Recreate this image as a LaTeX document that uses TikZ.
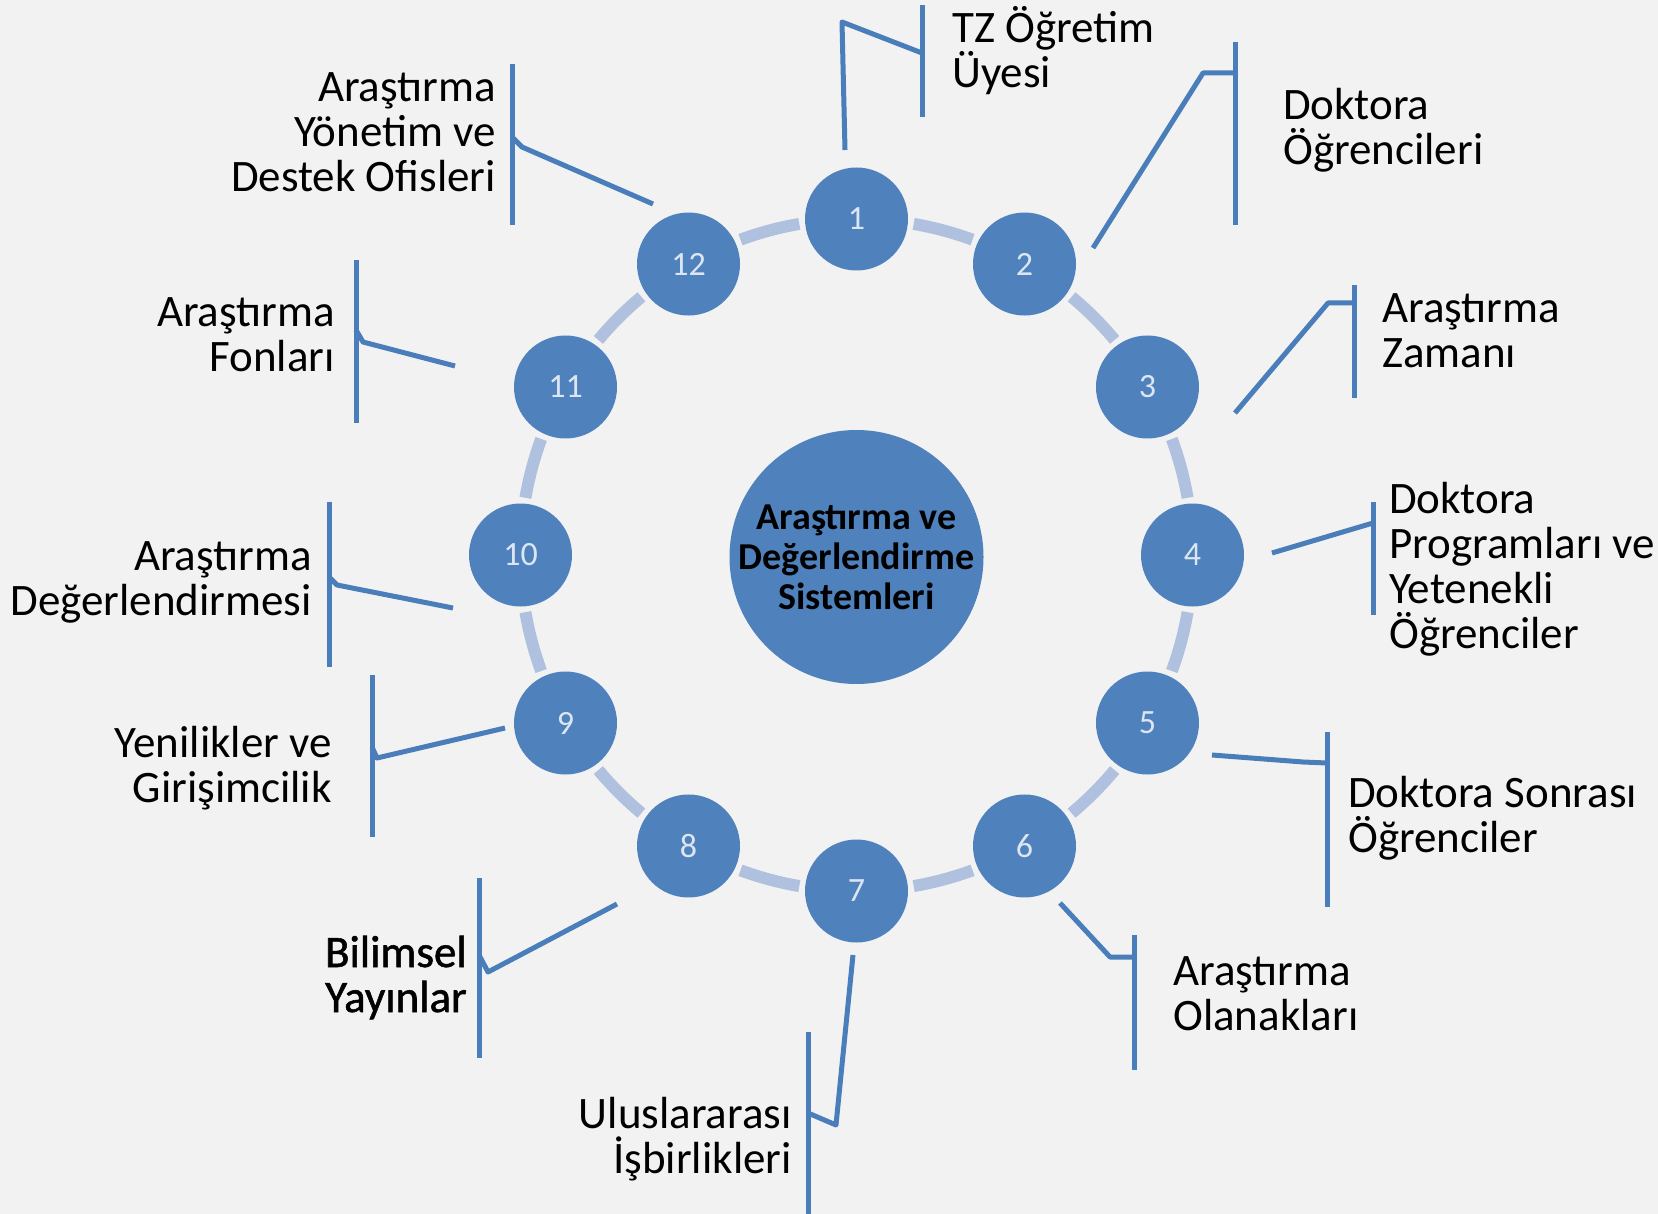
\documentclass[tikz,border=0pt]{standalone}
\usepackage{fontspec}
\setmainfont{Carlito}
\newfontfamily\heavierfont[FakeBold=1.2]{Carlito}
\usetikzlibrary{calc}
\definecolor{bgc}{HTML}{F2F2F2}
\definecolor{blu}{HTML}{4F81BD}
\definecolor{lnc}{HTML}{4A7EBB}
\definecolor{arcc}{HTML}{AFC1DE}
\definecolor{numc}{HTML}{DCE6F2}
\tikzset{
  numcirc/.style={circle, fill=blu, minimum size=103pt, inner sep=0pt, text=numc, font=\fontsize{34}{36}\selectfont},
  hubcirc/.style={circle, fill=blu, minimum size=254pt, inner sep=0pt},
  ringarc/.style={draw=arcc, line width=12pt},
  callout/.style={draw=lnc, line width=5pt, line join=round},
  lblL/.style={inner sep=0pt, anchor=base west, align=left, font=\fontsize{45}{45}\selectfont},
  lblR/.style={inner sep=0pt, anchor=base east, align=right, font=\fontsize{45}{45}\selectfont},
}
\begin{document}
\begin{tikzpicture}[x=1pt,y=1pt]
\useasboundingbox (0,0) rectangle (1658,-1214);
\fill[bgc] (0,0) rectangle (1658,-1214);
\coordinate (ring) at (856.5,-555);
% ring arcs between the numbered circles
\foreach \k in {1,...,12}{
  \pgfmathsetmacro{\a}{90-30*(\k-1)}
  \draw[ringarc] ($(ring)+(\a-9.8:336)$) arc[start angle=\a-9.8, end angle=\a-20.2, radius=336];
}
% hub
\node[hubcirc] (hub) at (856.5,-557) {};
\node[inner sep=0pt, anchor=base, align=center, font=\bfseries\fontsize{38}{40}\selectfont] (hubtxt) at (856.5,-609) {Araştırma ve\\Değerlendirme\\Sistemleri};
% numbered circles
\foreach \k in {1,...,12}{
  \pgfmathsetmacro{\a}{90-30*(\k-1)}
  \node[numcirc] (n\k) at ($(ring)+(\a:336)$) {\k};
}
% callout coordinates
\coordinate (b1t) at (922,-5);    \coordinate (b1b) at (922,-117);
\coordinate (p1a) at (845,-150);  \coordinate (p1b) at (842,-22);  \coordinate (p1c) at (922,-53);
\coordinate (b2t) at (1235,-42);  \coordinate (b2b) at (1235,-225);
\coordinate (p2a) at (1093,-248); \coordinate (p2b) at (1203,-73); \coordinate (p2c) at (1235,-73);
\coordinate (b3t) at (1354,-285); \coordinate (b3b) at (1354,-398);
\coordinate (p3a) at (1235,-413); \coordinate (p3b) at (1328,-303); \coordinate (p3c) at (1354,-303);
\coordinate (b4t) at (1373,-502); \coordinate (b4b) at (1373,-615);
\coordinate (p4a) at (1272,-553); \coordinate (p4c) at (1373,-523);
\coordinate (b5t) at (1327,-732); \coordinate (b5b) at (1327,-907);
\coordinate (p5a) at (1212,-755); \coordinate (p5b) at (1303,-762); \coordinate (p5c) at (1327,-763);
\coordinate (b6t) at (1134,-935); \coordinate (b6b) at (1134,-1070);
\coordinate (p6a) at (1060,-903); \coordinate (p6b) at (1110,-957); \coordinate (p6c) at (1134,-957);
\coordinate (b7t) at (808,-1032); \coordinate (b7b) at (808,-1214);
\coordinate (p7a) at (853,-955);  \coordinate (p7b) at (836,-1125); \coordinate (p7c) at (808,-1113);
\coordinate (b8t) at (479,-878);  \coordinate (b8b) at (479,-1058);
\coordinate (p8a) at (617,-904);  \coordinate (p8b) at (488,-972); \coordinate (p8c) at (479,-955);
\coordinate (b9t) at (372,-675);  \coordinate (b9b) at (372,-837);
\coordinate (p9a) at (505,-728);  \coordinate (p9b) at (377,-758); \coordinate (p9c) at (372,-747);
\coordinate (b10t) at (329,-502); \coordinate (b10b) at (329,-667);
\coordinate (p10a) at (453,-608); \coordinate (p10b) at (337,-585); \coordinate (p10c) at (329,-577);
\coordinate (b11t) at (356,-260); \coordinate (b11b) at (356,-423);
\coordinate (p11a) at (455,-366); \coordinate (p11b) at (363,-342); \coordinate (p11c) at (356,-330);
\coordinate (b12t) at (512,-64);  \coordinate (b12b) at (512,-225);
\coordinate (p12a) at (653,-204); \coordinate (p12b) at (522,-147); \coordinate (p12c) at (512,-137);
% callouts
\foreach \k in {1,2,3,5,6,7,8,9,10,11,12}{
  \draw[callout] (b\k t) -- (b\k b);
  \draw[callout] (p\k a) -- (p\k b) -- (p\k c);
}
\draw[callout] (b4t) -- (b4b);
\draw[callout] (p4a) -- (p4c);
% labels (anchor = baseline of the last line)
\node[lblL] (l1) at (952,-88) {TZ Öğretim\\Üyesi};
\node[lblL] (l2) at (1283,-165) {Doktora\\Öğrencileri};
\node[lblL] (l3) at (1382,-368) {Araştırma\\Zamanı};
\node[lblL] (l4) at (1389,-648) {Doktora\\Programları ve\\Yetenekli\\Öğrenciler};
\node[lblL] (l5) at (1348,-852) {Doktora Sonrası\\Öğrenciler};
\node[lblL] (l6) at (1173,-1030) {Araştırma\\Olanakları};
\node[lblR] (l7) at (792,-1173) {Uluslararası\\İşbirlikleri};
\node[lblR, font=\heavierfont\fontsize{45}{45}\selectfont] (l8) at (467,-1012) {Bilimsel\\Yayınlar};
\node[lblR] (l9) at (332,-802) {Yenilikler ve\\Girişimcilik};
\node[lblR] (l10) at (312,-615) {Araştırma\\Değerlendirmesi};
\node[lblR] (l11) at (335,-372) {Araştırma\\Fonları};
\node[lblR] (l12) at (496,-192) {Araştırma\\Yönetim ve\\Destek Ofisleri};
\end{tikzpicture}
\end{document}
